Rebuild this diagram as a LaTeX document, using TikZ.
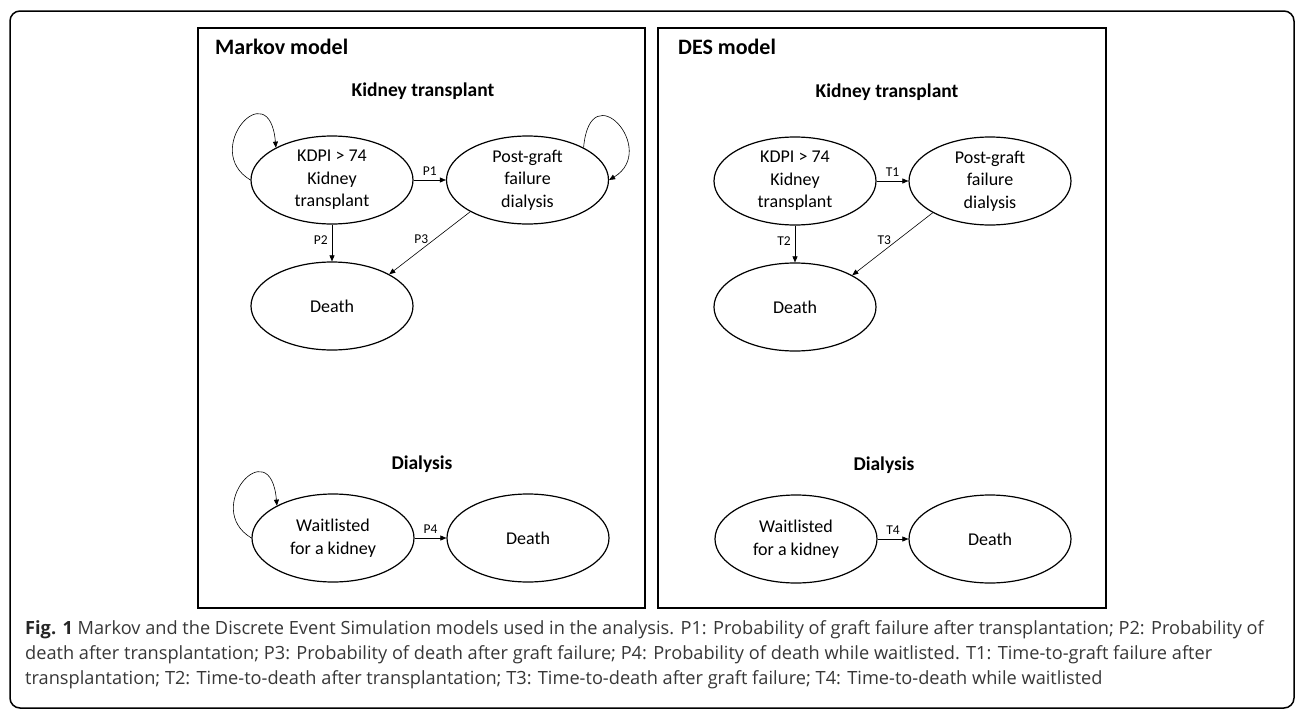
\documentclass[tikz,border=0pt]{standalone}
\usepackage{fontspec}
\setmainfont{Carlito}
\newfontfamily\capfont{Open Sans}
\usetikzlibrary{shapes.geometric,arrows.meta,calc}
\definecolor{capgray}{RGB}{55,55,55}
\begin{document}
\begin{tikzpicture}[x=1pt,y=-1pt,
  state/.style={ellipse, draw, line width=1.2pt, minimum width=162pt, minimum height=88pt, inner sep=0pt, align=center, font=\fontsize{18}{22.5}\selectfont},
  arr/.style={line width=0.6pt, -{Triangle[length=6pt,width=5pt]}},
  lbl/.style={font=\fontsize{13.5}{15}\selectfont, inner sep=1pt},
  sectitle/.style={font=\bfseries\fontsize{19.5}{22}\selectfont, inner sep=0pt},
  modtitle/.style={font=\bfseries\fontsize{22}{24}\selectfont, inner sep=0pt, anchor=west},
  panel/.style={draw, line width=1.1pt},
  capline/.style={font=\capfont\fontsize{18.2}{25}\selectfont, text=capgray, inner sep=0pt, anchor=base west}]
\useasboundingbox (0,0) rectangle (1296,712);
\draw[line width=1.5pt, rounded corners=10pt] (10,11) rectangle (1294,708);
% ---------- Markov panel ----------
\draw[panel] (198,28) rectangle (645,608);
\node[modtitle] (mk) at (215,47) {Markov model};
\node[sectitle] (kt1) at (423,91) {Kidney transplant};
\node[state] (kdpi1) at (332,180) {KDPI > 74\\Kidney\\transplant};
\node[state] (post1) at (527.5,180) {Post-graft\\failure\\dialysis};
\node[state] (death1) at (332,306) {Death};
\draw[arr] (kdpi1.east) -- node[lbl, above=3pt] {P1} (post1.west);
\draw[arr] (kdpi1.south) -- node[lbl, pos=0.42, anchor=east, xshift=-3pt] {P2} (death1.north);
\draw[arr] (post1.209) -- node[lbl, pos=0.44, anchor=east, xshift=-5pt] {P3} (death1.29);
\draw[arr] (kdpi1.west) .. controls ($(kdpi1.west)+(-50,-30)$) and ($(kdpi1.west)+(19,-108)$) .. (kdpi1.150);
\draw[arr] (post1.30) .. controls ($(post1.east)+(-19,-108)$) and ($(post1.east)+(50,-30)$) .. (post1.east);
\node[sectitle] (dl1) at (422,464) {Dialysis};
\node[state] (wait1) at (333,538) {Waitlisted\\for a kidney};
\node[state] (death2) at (528,538) {Death};
\draw[arr] (wait1.east) -- node[lbl, above=3pt] {P4} (death2.west);
\draw[arr] (wait1.west) .. controls ($(wait1.west)+(-50,-30)$) and ($(wait1.west)+(19,-108)$) .. (wait1.150);
% ---------- DES panel ----------
\draw[panel] (658,28) rectangle (1106,608);
\node[modtitle] (des) at (678,47) {DES model};
\node[sectitle] (kt2) at (887,92) {Kidney transplant};
\node[state] (kdpi2) at (795,181) {KDPI > 74\\Kidney\\transplant};
\node[state] (post2) at (990,181) {Post-graft\\failure\\dialysis};
\node[state] (death3) at (795,307) {Death};
\draw[arr] (kdpi2.east) -- node[lbl, above=3pt] {T1} (post2.west);
\draw[arr] (kdpi2.south) -- node[lbl, pos=0.42, anchor=east, xshift=-3pt] {T2} (death3.north);
\draw[arr] (post2.209) -- node[lbl, pos=0.44, anchor=east, xshift=-5pt] {T3} (death3.29);
\node[sectitle] (dl2) at (884,465) {Dialysis};
\node[state] (wait2) at (796,539) {Waitlisted\\for a kidney};
\node[state] (death4) at (990,539) {Death};
\draw[arr] (wait2.east) -- node[lbl, above=3pt] {T4} (death4.west);
% ---------- caption ----------
\node[capline] (cap1) at (25,634) {\textbf{\color{black!85}Fig. 1} Markov and the Discrete Event Simulation models used in the analysis. P1: Probability of graft failure after transplantation; P2: Probability of};
\node[capline] (cap2) at (25,659) {death after transplantation; P3: Probability of death after graft failure; P4: Probability of death while waitlisted. T1: Time-to-graft failure after};
\node[capline] (cap3) at (25,684) {transplantation; T2: Time-to-death after transplantation; T3: Time-to-death after graft failure; T4: Time-to-death while waitlisted};
\end{tikzpicture}
\end{document}
